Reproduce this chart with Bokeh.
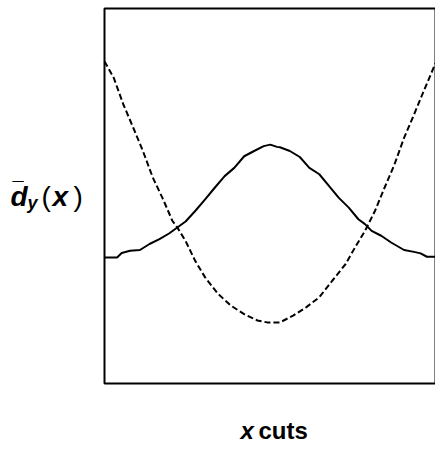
from bokeh.plotting import figure
from bokeh.models import Range1d, Label
from bokeh.embed import file_html
from bokeh.resources import INLINE

# x cut position (0..100) and normalized profile values
solid_x = [0, 3.8, 5.2, 7.7, 10.7, 13.6, 16.6, 19.5, 22.0, 24.5, 27.4, 30.4, 33.3, 36.3, 39.2,
           42.2, 45.2, 48.1, 50.1, 52.1, 53.0, 56.0, 59.0, 61.9, 64.9, 67.8, 70.8, 73.8, 76.7,
           78.7, 80.7, 83.6, 86.6, 90.5, 93.5, 95.5, 97.4, 100]
solid_y = [0.336, 0.336, 0.348, 0.354, 0.356, 0.372, 0.385, 0.400, 0.416, 0.432, 0.460, 0.491,
           0.522, 0.553, 0.575, 0.606, 0.620, 0.633, 0.637, 0.631, 0.630, 0.620, 0.604, 0.575,
           0.558, 0.527, 0.495, 0.469, 0.438, 0.425, 0.407, 0.394, 0.376, 0.356, 0.351, 0.347,
           0.338, 0.338]

dashed_x = [0, 2.8, 5.7, 8.7, 11.6, 14.6, 17.5, 20.5, 22.0, 24.5, 27.4, 30.4, 34.3, 38.3, 42.2,
            46.2, 49.1, 53.0, 57.0, 60.9, 64.9, 68.8, 72.8, 75.7, 78.7, 81.7, 84.6, 87.6, 90.5,
            93.5, 96.4, 100]
dashed_y = [0.859, 0.815, 0.744, 0.682, 0.620, 0.549, 0.495, 0.434, 0.416, 0.380, 0.327, 0.283,
            0.239, 0.207, 0.185, 0.168, 0.163, 0.163, 0.181, 0.203, 0.230, 0.274, 0.318, 0.363,
            0.407, 0.460, 0.522, 0.584, 0.655, 0.717, 0.779, 0.854]

# axis box limits (data units)
x_lim = [0, 100]
y_lim = [0, 1]

x_label_var = "x"
x_label_word = "cuts"

FONT = "Liberation Sans"

W, H = 435, 444
BOX_L, BOX_R, BOX_T, BOX_B = 104, 435, 8, 383  # pixel placement of the axes box
sx = (x_lim[1] - x_lim[0]) / (BOX_R - BOX_L)
sy = (y_lim[1] - y_lim[0]) / (BOX_B - BOX_T)

p = figure(width=W, height=H, output_backend="svg", toolbar_location=None,
           x_range=Range1d(x_lim[0] - BOX_L * sx, x_lim[0] + (W - BOX_L) * sx),
           y_range=Range1d(y_lim[0] - (H - BOX_B) * sy, y_lim[1] + BOX_T * sy),
           min_border=0)
p.xaxis.visible = False
p.yaxis.visible = False
p.xgrid.visible = False
p.ygrid.visible = False
p.outline_line_color = None
p.background_fill_color = "white"
p.border_fill_color = "white"

# axes box
p.quad(left=[x_lim[0]], right=[x_lim[1]], bottom=[y_lim[0]], top=[y_lim[1]],
       fill_alpha=0, line_color="black", line_width=2)

p.line(solid_x, solid_y, line_color="black", line_width=2)
p.line(dashed_x, dashed_y, line_color="black", line_width=2, line_dash="6 3")

# page pixel -> data helpers for label placement
def dx(px):
    return x_lim[0] + (px - BOX_L) * sx

def dy(py):
    return y_lim[0] + (BOX_B - py) * sy

def lab(text, px, py, size, style="bold italic"):
    p.add_layout(Label(x=dx(px), y=dy(py), text=text, text_font=FONT, text_font_size=f"{size}px",
                       text_font_style=style, text_color="black", text_baseline="alphabetic",
                       text_align="left"))

# x axis title
lab(x_label_var, 240, 430, 24, "bold italic")
lab(x_label_word, 258, 430, 24, "bold")

# y axis title: d-bar_y(x)
lab("\u00af", 12, 188, 20, "bold")
lab("d", 10, 196, 28, "bold italic")
lab("y", 27, 202, 18, "bold italic")
lab("(", 41, 196, 28, "normal")
lab("x", 52, 196, 28, "bold italic")
lab(")", 73, 196, 28, "normal")

open("out.html", "w").write(file_html(p, INLINE))
